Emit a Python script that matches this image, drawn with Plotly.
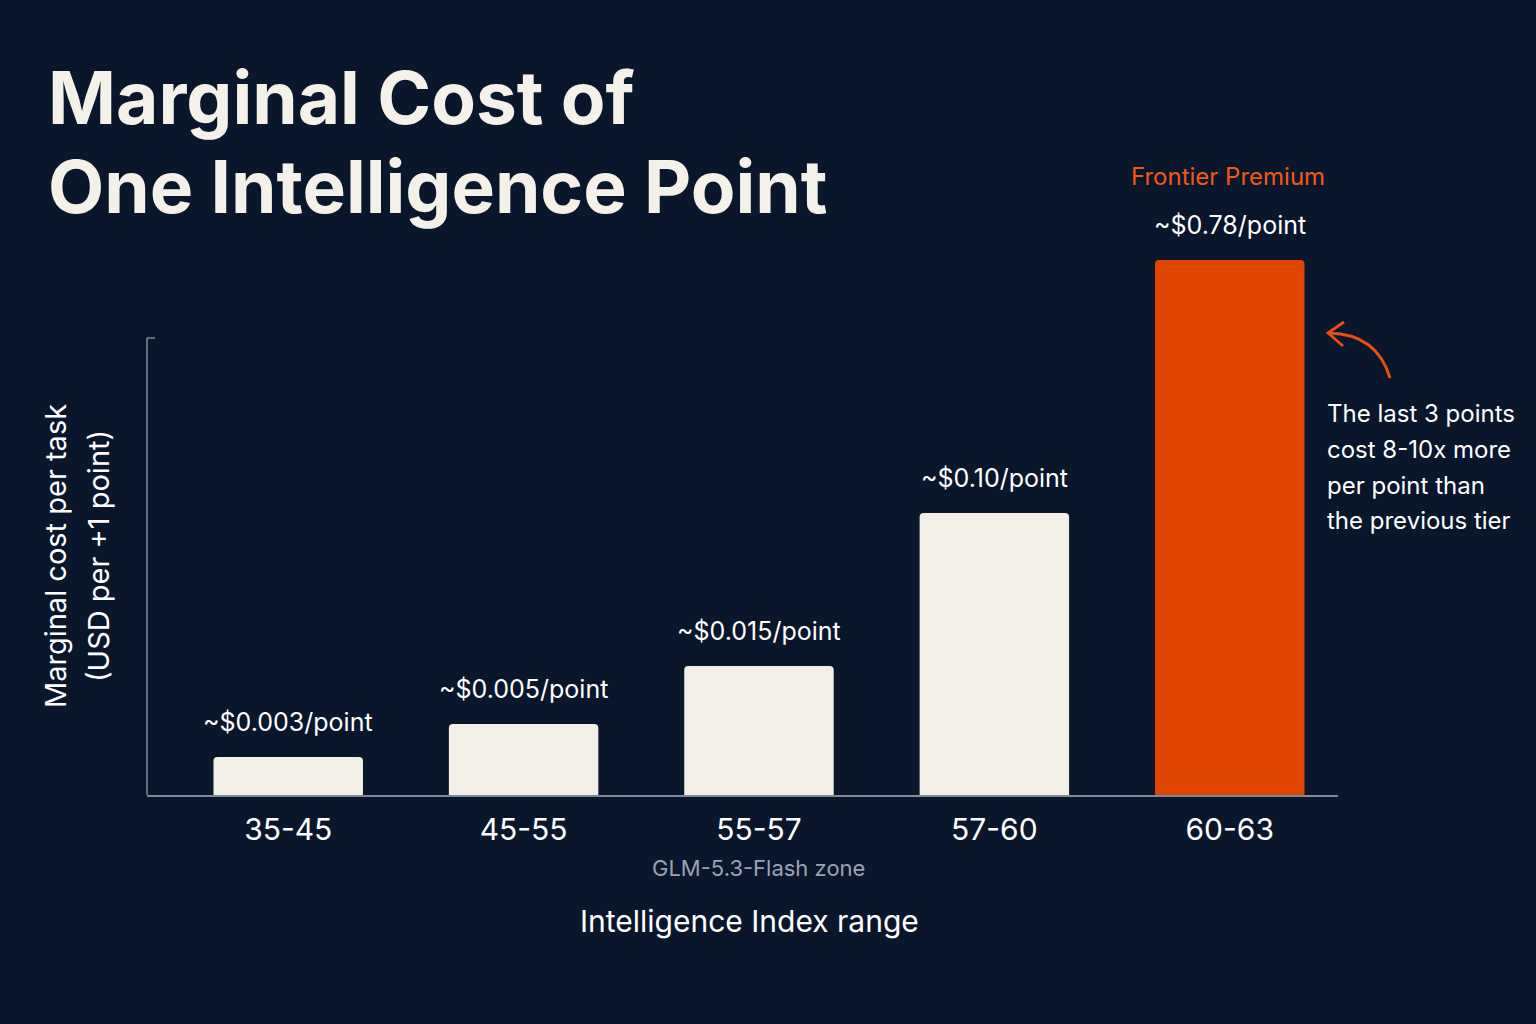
import plotly.graph_objects as go

categories = ["35-45", "45-55", "55-57", "57-60", "60-63"]
cost_labels = ["~$0.003/point", "~$0.005/point", "~$0.015/point", "~$0.10/point", "~$0.78/point"]
# displayed bar heights (visual scale, arbitrary units)
bar_heights = [38, 71, 129, 282, 535]
bar_colors = ["#f2efe6", "#f2efe6", "#f2efe6", "#f2efe6", "#e04600"]
title_lines = ["Marginal Cost of", "One Intelligence Point"]
y_title_lines = ["Marginal cost per task", "(USD per +1 point)"]
note_lines = ["The last 3 points", "cost 8-10x more", "per point than", "the previous tier"]

BG = "#0a162c"
AXIS = "#7f899c"
ORANGE = "#e8500f"
FONT = "Inter"

L, R, T, B = 147, 198, 250, 229
PW, PH = 1536 - L - R, 1024 - T - B


def px(x):
    return (x - L) / PW


def py(y):
    return (1024 - B - y) / PH


fig = go.Figure()
fig.add_trace(go.Bar(
    x=categories, y=bar_heights, marker=dict(color=bar_colors, line=dict(width=0)),
    width=0.635, hoverinfo="skip",
))

fig.update_layout(
    width=1536, height=1024,
    paper_bgcolor=BG, plot_bgcolor=BG,
    margin=dict(l=L, r=R, t=T, b=B),
    showlegend=False,
    barcornerradius=4,
    xaxis=dict(range=[-0.6, 4.46], showline=True, linecolor=AXIS, linewidth=1.5,
               showgrid=False, zeroline=False, ticks="", ticklabelstandoff=7,
               tickfont=dict(family=FONT, size=30, color="#ffffff")),
    yaxis=dict(range=[0, PH], showline=False, showgrid=False, zeroline=False,
               showticklabels=False, ticks=""),
)

# value labels above bars
for c, h, lab in zip(categories, bar_heights, cost_labels):
    fig.add_annotation(x=c, y=h, xref="x", yref="y", text=lab, showarrow=False,
                       yanchor="bottom", yshift=18,
                       font=dict(family=FONT, size=25, color="#ffffff"))

# y axis line (partial height with small top tick)
fig.add_shape(type="line", xref="paper", yref="paper", x0=0, x1=0, y0=0, y1=py(338),
              line=dict(color=AXIS, width=1.5))
fig.add_shape(type="line", xref="paper", yref="paper", x0=0, x1=px(155), y0=py(338), y1=py(338),
              line=dict(color=AXIS, width=1.5))

# curved arrow
fig.add_shape(type="path", xref="paper", yref="paper",
              path=f"M {px(1390)},{py(378)} Q {px(1377)},{py(334)} {px(1329)},{py(333)}",
              line=dict(color=ORANGE, width=2.8))
fig.add_shape(type="path", xref="paper", yref="paper",
              path=f"M {px(1344)},{py(322)} L {px(1328)},{py(333)} L {px(1343)},{py(346)}",
              line=dict(color=ORANGE, width=2.8))

# title
for txt, y in zip(title_lines, [97, 187]):
    fig.add_annotation(x=px(46), y=py(y), xref="paper", yref="paper",
                       text="<b>" + txt + "</b>", showarrow=False, xanchor="left", yanchor="middle",
                       font=dict(family=FONT, size=73, color="#f4f1ea"))

# y axis title
for txt, x in zip(y_title_lines, [55, 98]):
    fig.add_annotation(x=px(x), y=py(556), xref="paper", yref="paper", text=txt,
                       showarrow=False, textangle=-90, xanchor="center", yanchor="middle",
                       font=dict(family=FONT, size=29, color="#ffffff"))

fig.add_annotation(x="55-57", y=py(868), xref="x", yref="paper", text="GLM-5.3-Flash zone",
                   showarrow=False, yanchor="middle",
                   font=dict(family=FONT, size=22, color="#9aa3b5"))

fig.add_annotation(x=px(749), y=py(921), xref="paper", yref="paper", text="Intelligence Index range",
                   showarrow=False, yanchor="middle",
                   font=dict(family=FONT, size=30, color="#ffffff"))

fig.add_annotation(x="60-63", y=py(176), xref="x", yref="paper", text="Frontier Premium",
                   showarrow=False, yanchor="middle", xshift=-2,
                   font=dict(family=FONT, size=24, color="#f05a14"))

for txt, y in zip(note_lines, [413, 449, 485, 520]):
    fig.add_annotation(x=px(1325), y=py(y), xref="paper", yref="paper", text=txt,
                       showarrow=False, xanchor="left", yanchor="middle", align="left",
                       font=dict(family=FONT, size=24, color="#ffffff"))

fig.write_html("out.html", config={"displayModeBar": False},
               post_script="document.body.style.margin='0';document.body.style.background='%s';" % BG)
